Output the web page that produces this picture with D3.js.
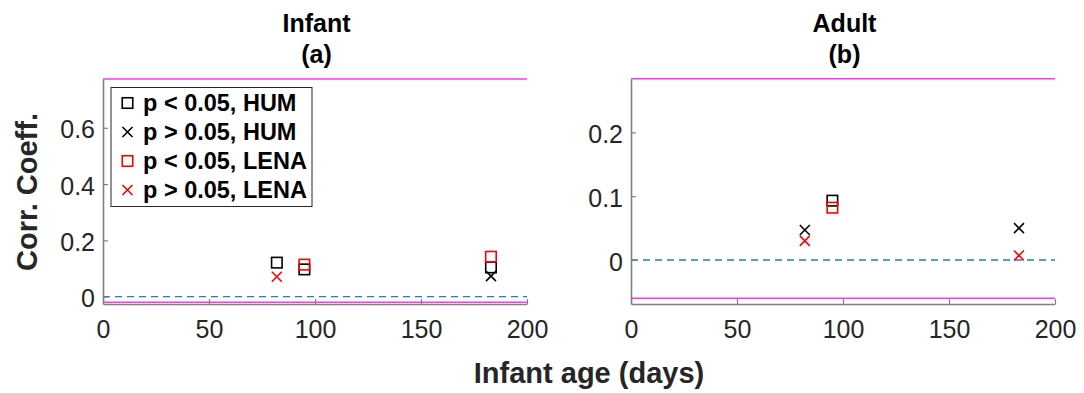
<!DOCTYPE html>
<html>
<head>
<meta charset="utf-8">
<script src="https://cdn.jsdelivr.net/npm/d3@7"></script>
<style>
  html, body { margin: 0; padding: 0; background: #fff; }
  svg { display: block; font-family: "Liberation Sans", Arial, sans-serif; }
</style>
</head>
<body>
<svg id="chart" width="1084" height="393"></svg>
<script>
// Infant age (days) at each recording session
const ages = [82, 95, 183];

// Panel (a): Infant correlation coefficients
const infantHumSig    = [[82, 0.121], [95, 0.097], [183, 0.104]];
const infantHumNonSig = [[183, 0.073]];
const infantLenaSig   = [[95, 0.114], [183, 0.142]];
const infantLenaNonSig = [[82, 0.071]];

// Panel (b): Adult correlation coefficients
const adultHumSig     = [[95, 0.093]];
const adultHumNonSig  = [[82, 0.047], [183, 0.050]];
const adultLenaSig    = [[95, 0.082]];
const adultLenaNonSig = [[82, 0.030], [183, 0.007]];

// Axis ticks and reference lines
const xTicks = [0, 50, 100, 150, 200];
const infantYTicks = [0, 0.2, 0.4, 0.6];
const adultYTicks = [0, 0.1, 0.2];
const infantBounds = [-0.02, 0.773];
const adultBounds = [-0.06, 0.284];

const legendLabels = ["p < 0.05, HUM", "p > 0.05, HUM", "p < 0.05, LENA", "p > 0.05, LENA"];

const svg = d3.select("#chart");
const AXIS = "#808080", TXT = "#262626";
const BLUE = "#1680d4", MAG = "#ff33ff";

function squareMark(g, x, y, color) {
  const s = 10.5;
  g.append("rect").attr("x", x - s / 2).attr("y", y - s / 2)
    .attr("width", s).attr("height", s)
    .attr("fill", "none").attr("stroke", color).attr("stroke-width", 1.6);
}
function crossMark(g, x, y, color) {
  const s = 5;
  g.append("path")
    .attr("d", `M${x - s},${y - s}L${x + s},${y + s}M${x - s},${y + s}L${x + s},${y - s}`)
    .attr("stroke", color).attr("stroke-width", 1.6).attr("fill", "none");
}

function panel(cfg) {
  const x = d3.scaleLinear().domain([0, 200]).range([cfg.left, cfg.right]);
  const y = d3.scaleLinear().domain(cfg.ydomain).range([cfg.bottom, cfg.top]);
  const g = svg.append("g");

  // magenta bounds
  cfg.bounds.forEach(b => {
    g.append("line").attr("x1", x(0)).attr("x2", x(200))
      .attr("y1", y(b)).attr("y2", y(b))
      .attr("stroke", MAG).attr("stroke-width", 1.5);
  });

  // zero reference
  g.append("line").attr("x1", x(0)).attr("x2", x(200))
    .attr("y1", y(0)).attr("y2", y(0))
    .attr("stroke", BLUE).attr("stroke-width", 1.3)
    .attr("stroke-dasharray", "7,5");

  // axes
  const xa = g.append("g").attr("transform", `translate(0,${cfg.bottom})`)
    .call(d3.axisBottom(x).tickValues(xTicks).tickSizeInner(-5).tickSizeOuter(0).tickPadding(16).tickFormat(d3.format("d")));
  const ya = g.append("g").attr("transform", `translate(${cfg.left},0)`)
    .call(d3.axisLeft(y).tickValues(cfg.yticks).tickSizeInner(-5).tickSizeOuter(0).tickPadding(8).tickFormat(d => d === 0 ? "0" : d3.format(".1f")(d)));
  [xa, ya].forEach(a => {
    a.select(".domain").attr("stroke", AXIS).attr("stroke-width", 1.6);
    a.selectAll(".tick line").attr("stroke", AXIS).attr("stroke-width", 1.2);
    a.selectAll(".tick text").attr("fill", TXT).style("font-size", "25px");
  });
  xa.selectAll(".tick text").attr("dy", "0.71em");
  ya.selectAll(".tick text").attr("dy", "0.4em");

  // data marks
  cfg.humSig.forEach(d => squareMark(g, x(d[0]), y(d[1]), "#000"));
  cfg.lenaSig.forEach(d => squareMark(g, x(d[0]), y(d[1]), "#ff0000"));
  cfg.humNon.forEach(d => crossMark(g, x(d[0]), y(d[1]), "#000"));
  cfg.lenaNon.forEach(d => crossMark(g, x(d[0]), y(d[1]), "#ff0000"));

  // titles
  const cx = (cfg.left + cfg.right) / 2 + 1.5;
  g.append("text").attr("x", cx).attr("y", 32).attr("text-anchor", "middle")
    .style("font-size", "25px").style("font-weight", "bold").attr("fill", "#000").text(cfg.title);
  g.append("text").attr("x", cx).attr("y", 63).attr("text-anchor", "middle")
    .style("font-size", "25px").style("font-weight", "bold").attr("fill", "#000").text(cfg.sub);
  return g;
}

panel({
  left: 103, right: 527, top: 79, bottom: 304,
  ydomain: [-(304 - 296.7) / 281.5, (296.7 - 79) / 281.5],
  yticks: infantYTicks, bounds: infantBounds,
  humSig: infantHumSig, humNon: infantHumNonSig,
  lenaSig: infantLenaSig, lenaNon: infantLenaNonSig,
  title: "Infant", sub: "(a)"
});

panel({
  left: 631, right: 1055, top: 79, bottom: 304,
  ydomain: [-(304 - 260) / 638, (260 - 79) / 638],
  yticks: adultYTicks, bounds: adultBounds,
  humSig: adultHumSig, humNon: adultHumNonSig,
  lenaSig: adultLenaSig, lenaNon: adultLenaNonSig,
  title: "Adult", sub: "(b)"
});

// legend in panel (a)
const lg = svg.append("g");
lg.append("rect").attr("x", 111).attr("y", 87.5).attr("width", 201).attr("height", 119)
  .attr("fill", "#fff").attr("stroke", "#262626").attr("stroke-width", 1);
const legendMarks = [
  (gg, x, y) => squareMark(gg, x, y, "#000"),
  (gg, x, y) => crossMark(gg, x, y, "#000"),
  (gg, x, y) => squareMark(gg, x, y, "#ff0000"),
  (gg, x, y) => crossMark(gg, x, y, "#ff0000")
];
legendLabels.forEach((t, i) => {
  const yy = 103 + i * 29;
  legendMarks[i](lg, 127.5, yy);
  lg.append("text").attr("x", 143).attr("y", yy).attr("dy", "0.36em")
    .style("font-size", "23.5px").style("font-weight", "bold").attr("fill", "#000").text(t);
});

// shared axis labels
svg.append("text").attr("x", 589).attr("y", 383).attr("text-anchor", "middle")
  .style("font-size", "29px").style("font-weight", "bold").attr("fill", TXT).text("Infant age (days)");
svg.append("text").attr("transform", "translate(37,192) rotate(-90)").attr("text-anchor", "middle")
  .style("font-size", "29px").style("font-weight", "bold").attr("fill", TXT).text("Corr. Coeff.");
</script>
</body>
</html>
